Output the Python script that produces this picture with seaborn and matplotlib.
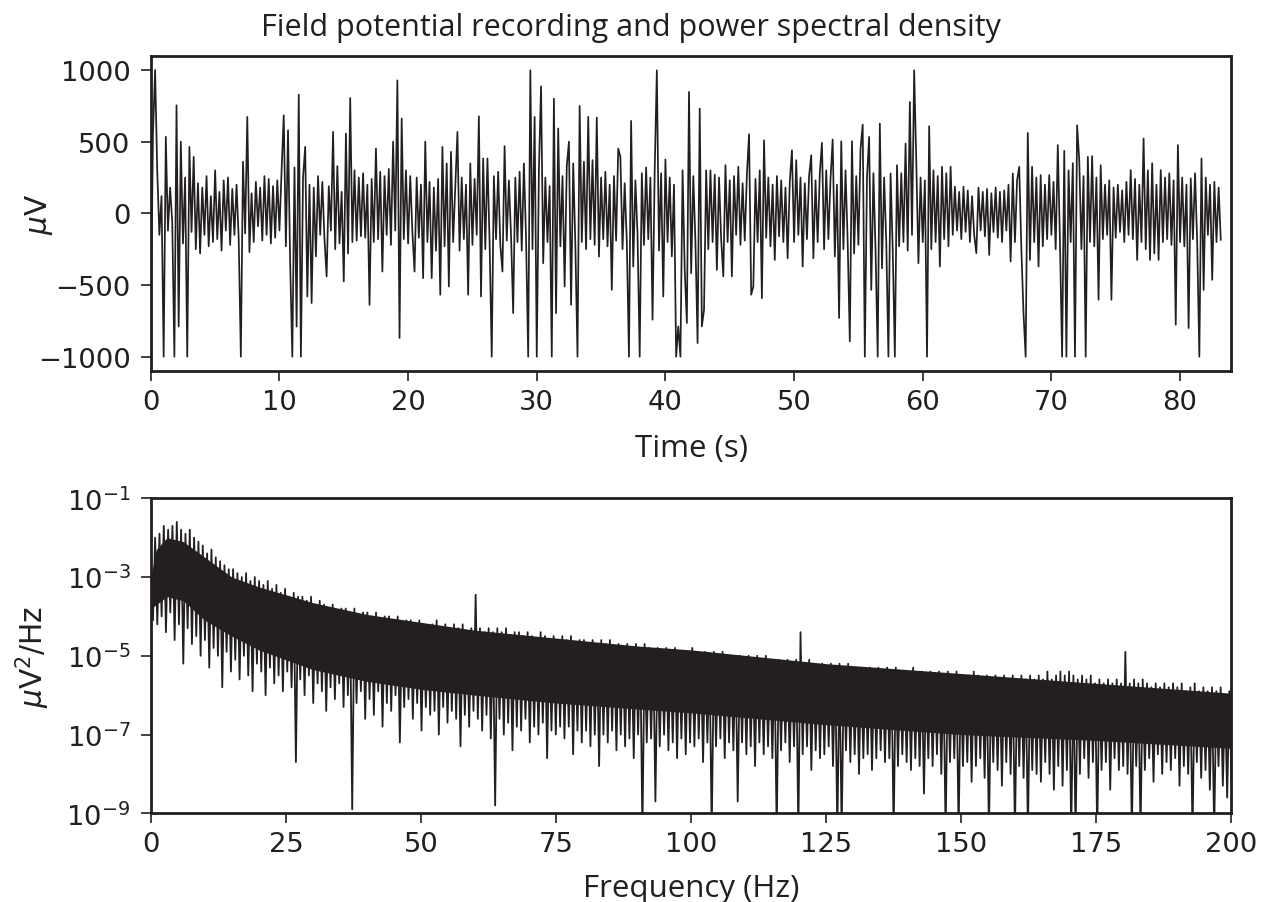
import numpy as np
import pandas as pd
import matplotlib
matplotlib.use("Agg")
import matplotlib.pyplot as plt
import matplotlib.ticker as mticker
import seaborn as sns

# ---------------- data ----------------
sample_interval_s = 1.0 / 6.0  # spacing of the digitised samples

lfp_uV = [
    -800, 550, 1000, 300, -150, 120, -1000, 534, -120, 180,
    -60, -1000, 754, -789, 500, -210, 250, -1000, 464, -130,
    394, -250, 210, -280, 180, -150, 260, -230, 120, -200,
    300, -180, 150, -260, 230, -120, 250, -220, 170, -150,
    200, -180, -1000, 360, -140, 673, -270, 140, -200, 220,
    -90, 180, -190, 260, -150, 240, -210, 190, -170, 230,
    -120, 300, 684, -230, 580, -350, -1000, 320, -790, 828,
    -1000, 250, 464, -580, 200, -626, 180, -300, 260, -150,
    220, -180, -440, 190, -120, 568, -250, 330, -210, 150,
    -475, 557, -280, 805, -200, 300, -190, 250, -160, 280,
    -170, 200, -638, 240, -200, 452, -180, 290, -406, 260,
    -150, 310, -220, 500, -120, 928, -870, 661, -180, 300,
    -210, 260, -130, -406, 250, -170, 200, -452, 500, -200,
    220, -452, 180, -260, 240, -568, 464, -230, 348, -510,
    429, -200, 190, 568, -260, 250, -180, 200, -568, 348,
    -220, 240, -150, 677, -580, 383, -250, 383, -200, -1000,
    260, -180, 290, -220, -406, 469, -190, 230, -150, -696,
    250, -200, 290, -260, 348, -170, -1000, 998, -250, 673,
    -1000, 300, 886, -348, 250, -200, 190, -1000, 800, -696,
    592, -230, 260, -510, 330, 500, -638, 348, -220, -1000,
    749, -200, 360, -250, 673, -180, 371, -220, 668, -302,
    250, -180, 290, -230, 200, -534, 260, -190, 452, 394,
    -250, 210, -200, -1000, 645, -371, 230, -150, -1000, 280,
    -220, 320, -180, 250, -742, 300, 998, -260, 280, -580,
    376, -200, 250, -300, 200, -1000, -789, -1000, 300, -394,
    -765, 847, -418, 260, -200, -905, 731, -789, -673, 300,
    -250, 300, -200, 270, -394, 250, -180, -440, 336, -200,
    230, -440, 260, -150, 325, -220, 210, -190, 270, 552,
    -568, -510, 240, -200, 300, -592, 510, -170, 250, -230,
    200, -325, 260, -160, 230, -200, 180, -313, 220, 440,
    -200, 371, -150, 250, -371, 210, -180, 260, 406, -313,
    230, -200, 280, 492, -250, 300, -180, 240, 515, -300,
    200, -730, 503, -250, 300, -200, -893, 503, -280, 260,
    -220, 452, 619, -1000, 250, 533, -534, 280, -260, -1000,
    626, -383, 250, -200, -1000, 278, -250, -1000, 336, -230,
    280, -200, 487, -260, 777, -150, 998, 360, -348, 250,
    -200, 230, -1000, 608, -250, 300, -200, 260, -371, 325,
    -180, 280, -230, 325, -150, 186, -120, 150, -180, 186,
    -130, 160, -200, 120, -150, -278, 180, -120, 150, -160,
    170, -290, 140, -130, 180, -170, 150, -200, 160, -120,
    200, -336, 278, -200, 230, 325, -250, -696, -1000, 561,
    -325, 325, -200, 250, -371, 267, -230, 200, -180, 267,
    -150, 220, -250, 476, -200, -1000, 436, -1000, 300, -200,
    350, -1000, 615, 371, -250, 260, -1000, 394, -200, 399,
    -230, 250, -603, 336, -180, 200, -150, 230, -603, 180,
    -170, 200, -130, 160, -200, 220, -150, 302, -180, 240,
    -325, 200, -200, 522, -250, 300, -325, 350, -280, 200,
    -325, 302, -200, 250, -180, 280, -220, 230, -777, 476,
    -200, 250, -230, 200, -800, 244, -180, 280, -200, -1000,
    383, -534, 250, -150, 200, -464, 220, -200, 180, -186,
]

psd_max_hz = 200.0
# log10 of the power spectral density (uV^2/Hz)
psd_log10 = [
    -2.6, -4.1, -2.0, -4.2, -1.9, -4.0, -1.7, -4.4, -1.8, -3.9,
    -1.7, -4.6, -1.6, -4.2, -1.8, -5.2, -1.9, -4.3, -1.8, -4.7,
    -2.0, -4.5, -2.1, -5.0, -2.2, -4.6, -2.4, -5.3, -2.3, -4.8,
    -2.5, -5.0, -2.6, -5.8, -2.7, -4.9, -2.8, -5.4, -2.8, -5.1,
    -2.9, -5.6, -3.0, -5.0, -2.9, -5.5, -3.1, -5.9, -3.0, -5.2,
    -3.1, -5.4, -3.2, -6.0, -3.1, -5.3, -3.3, -5.7, -3.2, -5.5,
    -3.4, -5.9, -3.3, -5.4, -3.5, -5.8, -3.4, -7.7, -3.5, -5.6,
    -3.5, -6.0, -3.6, -5.5, -3.5, -6.2, -3.7, -5.7, -3.6, -5.9,
    -3.7, -6.4, -3.8, -5.8, -3.7, -6.1, -3.9, -5.7, -3.8, -6.3,
    -3.8, -6.0, -3.9, -8.9, -3.8, -6.2, -4.0, -5.9, -3.9, -6.6,
    -3.9, -6.1, -4.0, -6.5, -3.9, -5.9, -4.1, -6.8, -4.0, -6.2,
    -4.0, -6.4, -4.1, -6.0, -4.0, -7.2, -4.2, -6.3, -4.1, -6.1,
    -4.1, -6.6, -4.2, -6.2, -4.1, -6.9, -4.2, -6.3, -4.3, -6.5,
    -4.2, -6.4, -4.1, -7.0, -4.3, -6.3, -4.2, -6.7, -4.3, -6.4,
    -4.2, -6.6, -4.3, -7.3, -4.2, -6.5, -4.4, -6.8, -4.3, -6.4,
    -3.45, -6.6, -4.3, -6.9, -4.4, -6.5, -4.3, -7.1, -4.4, -8.8,
    -4.3, -6.6, -4.4, -7.0, -4.3, -6.7, -4.5, -7.4, -4.4, -6.8,
    -4.4, -6.9, -4.5, -6.6, -4.4, -7.2, -4.5, -6.8, -4.6, -7.0,
    -4.4, -6.7, -4.5, -7.6, -4.6, -6.9, -4.5, -7.0, -4.6, -6.8,
    -4.5, -7.1, -4.6, -6.8, -4.5, -7.5, -4.7, -6.9, -4.6, -7.2,
    -4.6, -6.9, -4.7, -7.3, -4.6, -7.0, -4.7, -7.8, -4.6, -7.0,
    -4.7, -7.2, -4.6, -6.9, -4.8, -7.4, -4.7, -7.0, -4.8, -7.3,
    -4.7, -7.1, -4.8, -7.6, -4.7, -7.0, -4.8, -9.5, -4.7, -7.2,
    -4.8, -7.1, -4.9, -8.7, -4.8, -7.3, -4.9, -7.0, -4.8, -7.4,
    -4.9, -7.2, -4.8, -7.6, -4.9, -7.1, -5.0, -7.5, -4.9, -7.2,
    -4.8, -7.3, -4.9, -7.1, -5.0, -7.7, -4.9, -7.2, -5.0, -9.5,
    -4.9, -7.3, -5.0, -7.1, -4.9, -7.6, -5.0, -7.2, -5.1, -7.4,
    -5.0, -8.7, -5.0, -7.2, -5.1, -7.5, -5.0, -7.3, -5.1, -7.8,
    -5.0, -7.2, -5.1, -7.5, -5.0, -7.3, -5.2, -7.6, -5.1, -9.5,
    -5.1, -7.4, -5.2, -7.2, -5.1, -7.7, -5.2, -7.3, -5.1, -9.5,
    -4.4, -7.5, -5.2, -7.3, -5.1, -7.9, -5.2, -7.4, -5.3, -7.6,
    -5.2, -7.5, -5.3, -7.3, -5.2, -7.8, -5.3, -9.5, -5.2, -9.5,
    -5.3, -7.4, -5.2, -7.7, -5.3, -7.5, -5.4, -8.0, -5.3, -7.6,
    -5.4, -7.5, -5.3, -7.9, -5.4, -7.6, -5.3, -7.4, -5.4, -7.7,
    -5.3, -7.6, -5.4, -9.5, -5.3, -7.8, -5.4, -7.5, -5.5, -7.7,
    -5.4, -7.9, -5.3, -7.6, -5.5, -7.8, -5.4, -8.5, -5.5, -7.6,
    -5.4, -7.8, -5.5, -7.5, -5.4, -8.0, -5.5, -9.5, -5.4, -7.7,
    -5.5, -7.6, -5.4, -9.5, -5.5, -7.8, -5.6, -7.7, -5.5, -8.2,
    -5.4, -7.8, -5.5, -7.6, -5.6, -8.1, -5.5, -9.5, -5.6, -7.7,
    -5.5, -7.9, -5.6, -8.3, -5.5, -7.7, -5.6, -8.0, -5.5, -9.5,
    -5.6, -7.8, -5.5, -8.1, -5.6, -9.5, -5.5, -7.9, -5.6, -8.0,
    -5.5, -8.2, -5.6, -7.7, -5.4, -8.0, -5.6, -8.4, -5.5, -7.8,
    -5.4, -8.3, -5.5, -7.9, -5.4, -9.5, -5.5, -9.5, -5.6, -8.0,
    -5.5, -7.6, -5.6, -8.1, -5.5, -7.7, -5.7, -9.5, -5.6, -7.9,
    -5.7, -7.7, -5.6, -8.4, -5.7, -7.6, -5.6, -7.9, -5.7, -7.8,
    -4.9, -8.0, -5.7, -9.5, -5.6, -7.8, -5.7, -9.5, -5.6, -7.9,
    -5.7, -7.6, -5.8, -8.2, -5.7, -7.5, -5.8, -8.0, -5.7, -7.7,
    -5.8, -7.9, -5.7, -7.6, -5.8, -8.3, -5.7, -7.8, -5.9, -8.0,
    -5.8, -9.5, -5.7, -7.7, -5.9, -8.1, -5.8, -7.9, -5.9, -8.4,
    -5.8, -9.5, -5.9, -7.8, -5.8, -8.3, -6.0, -8.6, -5.9, -8.2,
]

# solid (unresolvable) core of the spectrum band, log10 units
psd_core_freq_hz = [0, 1, 3, 6, 10, 15, 20, 25, 30, 40, 50, 60, 75, 90,
                    100, 125, 150, 175, 200]
psd_core_top_log10 = [-3.0, -2.3, -2.0, -2.1, -2.5, -3.0, -3.25, -3.45, -3.65,
                      -3.95, -4.15, -4.35, -4.55, -4.75, -4.85, -5.2, -5.45,
                      -5.7, -5.95]
psd_core_bottom_log10 = [-3.8, -3.7, -3.5, -3.6, -4.1, -4.5, -4.85, -5.1, -5.35,
                         -5.65, -5.85, -6.0, -6.2, -6.35, -6.45, -6.75, -7.0,
                         -7.15, -7.35]

time_ticks = [0, 10, 20, 30, 40, 50, 60, 70, 80]
uv_ticks = [-1000, -500, 0, 500, 1000]
freq_ticks = [0, 25, 50, 75, 100, 125, 150, 175, 200]
psd_ticks = [1e-9, 1e-7, 1e-5, 1e-3, 1e-1]

title_text = "Field potential recording and power spectral density"

# ---------------- tables ----------------
lfp_df = pd.DataFrame({
    "time_s": np.arange(len(lfp_uV)) * sample_interval_s,
    "uV": np.array(lfp_uV, dtype=float),
})
psd_df = pd.DataFrame({
    "freq_hz": np.linspace(0.0, psd_max_hz, len(psd_log10)),
    "psd": 10.0 ** np.array(psd_log10),
})

# ---------------- style ----------------
sns.set_theme(style="ticks")
ink = "#231f20"
label_font = ["Open Sans", "DejaVu Sans"]
plt.rcParams.update({
    "font.family": ["DejaVu Sans"],
    "axes.edgecolor": ink,
    "axes.linewidth": 2.0,
    "xtick.color": ink,
    "ytick.color": ink,
    "xtick.major.size": 7.2,
    "ytick.major.size": 7.2,
    "xtick.major.width": 1.2,
    "ytick.major.width": 1.2,
    "xtick.major.pad": 5.7,
    "ytick.major.pad": 7.4,
    "xtick.labelsize": 19.7,
    "ytick.labelsize": 19.7,
    "text.color": ink,
    "axes.labelcolor": ink,
    "mathtext.fontset": "dejavusans",
})

fig = plt.figure(figsize=(12.62, 9.03), dpi=100)
ax1 = fig.add_axes([0.11949, 0.58804, 0.85634, 0.34917])
ax2 = fig.add_axes([0.11949, 0.09823, 0.85634, 0.34884])

# top: recording
sns.lineplot(data=lfp_df, x="time_s", y="uV", ax=ax1, color=ink,
             linewidth=1.25, estimator=None, sort=False)
ax1.set_xlim(0, 84)
ax1.set_ylim(-1100, 1100)
ax1.set_xticks(time_ticks)
ax1.set_yticks(uv_ticks)
ax1.set_xlabel("Time (s)", family=label_font, fontsize=22.5, va="baseline")
ax1.xaxis.set_label_coords(0.5, -0.2696)
ax1.set_ylabel(r"$\mu$V", fontsize=21.3, va="baseline")
ax1.yaxis.set_label_coords(-0.0963, 0.5)

# bottom: power spectral density
ax2.fill_between(psd_core_freq_hz, 10.0 ** np.array(psd_core_bottom_log10),
                 10.0 ** np.array(psd_core_top_log10), color=ink, linewidth=0)
sns.lineplot(data=psd_df, x="freq_hz", y="psd", ax=ax2, color=ink,
             linewidth=1.3, estimator=None, sort=False)
ax2.set_yscale("log")
ax2.set_xlim(0, 200)
ax2.set_ylim(1e-9, 1e-1)
ax2.set_xticks(freq_ticks)
ax2.yaxis.set_major_locator(mticker.FixedLocator(psd_ticks))
ax2.yaxis.set_major_formatter(mticker.LogFormatterSciNotation())
ax2.yaxis.set_minor_locator(mticker.NullLocator())
ax2.set_xlabel("Frequency (Hz)", family=label_font, fontsize=22.5, va="baseline")
ax2.xaxis.set_label_coords(0.5, -0.2616)
ax2.set_ylabel(r"$\mu$V$^2$/Hz", fontsize=21.3, va="baseline")
ax2.yaxis.set_label_coords(-0.0995, 0.5)

for ax in (ax1, ax2):
    for side in ("top", "right", "left", "bottom"):
        ax.spines[side].set_visible(True)
        ax.spines[side].set_linewidth(2.0)
        ax.spines[side].set_color(ink)
    ax.tick_params(top=False, right=False)

fig.text(0.5, 1 - 36 / 903, title_text, family=label_font, fontsize=22.0,
         ha="center", va="baseline", color=ink)

fig.savefig("out.png", dpi=100, facecolor="white")
